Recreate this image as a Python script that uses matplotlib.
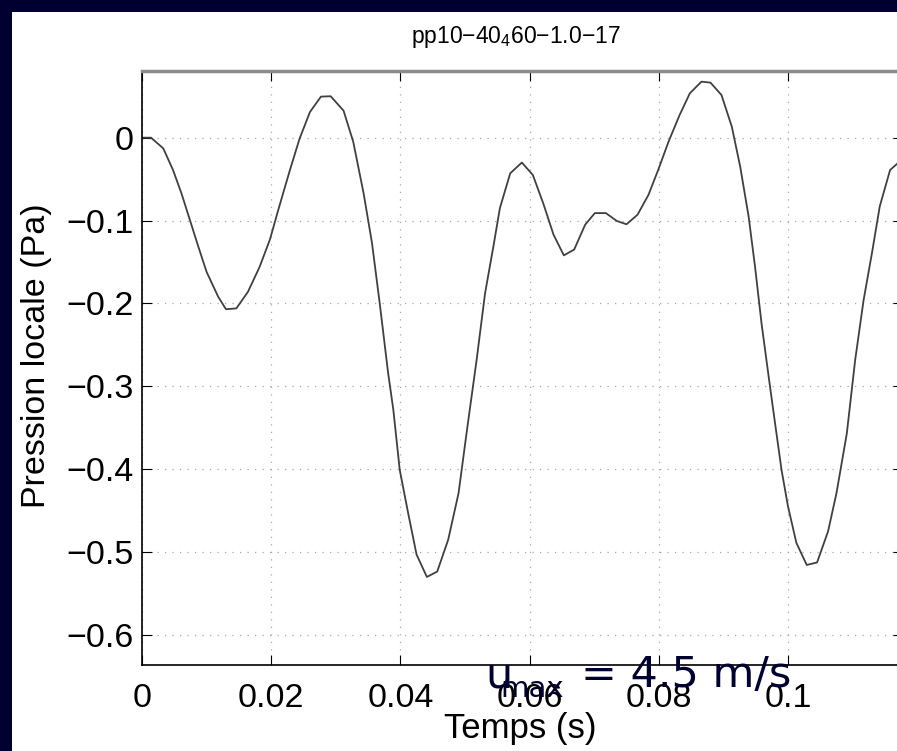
import matplotlib
matplotlib.use("Agg")
import matplotlib.pyplot as plt
from matplotlib.ticker import FixedLocator, FixedFormatter

# Local pressure trace (time in s, pressure in Pa)
temps = [0.0, 0.0014, 0.0033, 0.0048, 0.0061, 0.0074, 0.0087, 0.0100, 0.0118,
         0.0130, 0.0146, 0.0164, 0.0182, 0.0198, 0.0211, 0.0229, 0.0244, 0.0260,
         0.0277, 0.0292, 0.0312, 0.0327, 0.0343, 0.0356, 0.0368, 0.0381, 0.0389,
         0.0399, 0.0412, 0.0425, 0.0441, 0.0457, 0.0474, 0.0490, 0.0503, 0.0518,
         0.0531, 0.0544, 0.0554, 0.0570, 0.0588, 0.0605, 0.0621, 0.0637, 0.0653,
         0.0669, 0.0686, 0.0701, 0.0718, 0.0735, 0.0750, 0.0767, 0.0784, 0.0799,
         0.0815, 0.0832, 0.0848, 0.0866, 0.0880, 0.0897, 0.0913, 0.0926, 0.0939,
         0.0949, 0.0959, 0.0970, 0.0977, 0.0990, 0.1000, 0.1013, 0.1029, 0.1045,
         0.1062, 0.1075, 0.1091, 0.1104, 0.1117, 0.1130, 0.1142, 0.1158, 0.1174]
pression = [0.0, 0.0, -0.013, -0.039, -0.067, -0.099, -0.131, -0.162, -0.192,
            -0.207, -0.206, -0.186, -0.156, -0.123, -0.087, -0.039, -0.001, 0.031,
            0.0495, 0.050, 0.0326, -0.005, -0.067, -0.127, -0.200, -0.284, -0.328,
            -0.401, -0.453, -0.503, -0.530, -0.5235, -0.485, -0.429, -0.353, -0.268,
            -0.188, -0.131, -0.085, -0.043, -0.030, -0.045, -0.079, -0.117, -0.142,
            -0.135, -0.105, -0.091, -0.091, -0.1005, -0.1045, -0.093, -0.069, -0.039,
            -0.005, 0.027, 0.0535, 0.0676, 0.0664, 0.0515, 0.0133, -0.035, -0.095,
            -0.156, -0.224, -0.288, -0.328, -0.401, -0.445, -0.489, -0.5155, -0.5125,
            -0.475, -0.429, -0.357, -0.268, -0.196, -0.139, -0.083, -0.039, -0.028]

xticks = [0, 0.02, 0.04, 0.06, 0.08, 0.1]
xticklabels = ['0', '0.02', '0.04', '0.06', '0.08', '0.1']
yticks = [-0.6, -0.5, -0.4, -0.3, -0.2, -0.1, 0]
yticklabels = ['\u22120.6', '\u22120.5', '\u22120.4', '\u22120.3', '\u22120.2', '\u22120.1', '0']

titre = 'pp10\u221240$_{4}$60\u22121.0\u221217'
navy = '#000030'

plt.rcParams['font.family'] = ['Liberation Sans', 'DejaVu Sans']
plt.rcParams['mathtext.fontset'] = 'custom'
plt.rcParams['mathtext.rm'] = 'Liberation Sans'
plt.rcParams['mathtext.default'] = 'rm'

fig = plt.figure(figsize=(8.97, 7.51), dpi=100, facecolor=navy)
# white slide area, behind everything
fig.patches.append(plt.Rectangle((12 / 897, 0), 1, 1 - 12 / 751, transform=fig.transFigure,
                                 facecolor='white', edgecolor='none', zorder=-10))

ax = fig.add_axes([142 / 897, 1 - 665.3 / 751, 761 / 897, 594.6 / 751])
ax.set_zorder(1)
ax.plot(temps, pression, color='#404040', linewidth=1.3)
ax.set_xlim(0, 0.1178)
ax.set_ylim(-0.6366, 0.0808)

ax.xaxis.set_major_locator(FixedLocator(xticks))
ax.xaxis.set_major_formatter(FixedFormatter(xticklabels))
ax.yaxis.set_major_locator(FixedLocator(yticks))
ax.yaxis.set_major_formatter(FixedFormatter(yticklabels))
ax.tick_params(direction='in', length=7, width=0.8, top=True, right=True,
               labelsize=24.5, colors='black')
ax.tick_params(axis='x', pad=13)
ax.tick_params(axis='y', pad=6)
ax.grid(True, linestyle=(0, (1, 5)), color='#a8a8a8', linewidth=0.9)
for s in ax.spines.values():
    s.set_linewidth(1.2)
ax.spines['top'].set_color('#8a8a8a')
ax.spines['top'].set_linewidth(2.5)

ax.set_xlabel('Temps (s)', fontsize=25, va='center')
ax.xaxis.set_label_coords(0.497, -0.106)
ax.set_ylabel('Pression locale (Pa)', fontsize=24.5, va='center')
ax.yaxis.set_label_coords(-0.138, 0.52)

fig.text(516 / 897, 1 - 37 / 751, titre, fontsize=16.5, ha='center', va='center')

# speed annotation pasted on top of the slide
kw = dict(color=navy, family='DejaVu Sans', va='baseline', zorder=5)
fig.text(485 / 897, 1 - 687 / 751, 'u', fontsize=31, **kw)
fig.text(500 / 897, 1 - 697 / 751, 'max', fontsize=21, **kw)
fig.text(581 / 897, 1 - 687 / 751, '= 4.5 m/s', fontsize=31, **kw)

fig.savefig('out.png', dpi=100, facecolor=navy)
